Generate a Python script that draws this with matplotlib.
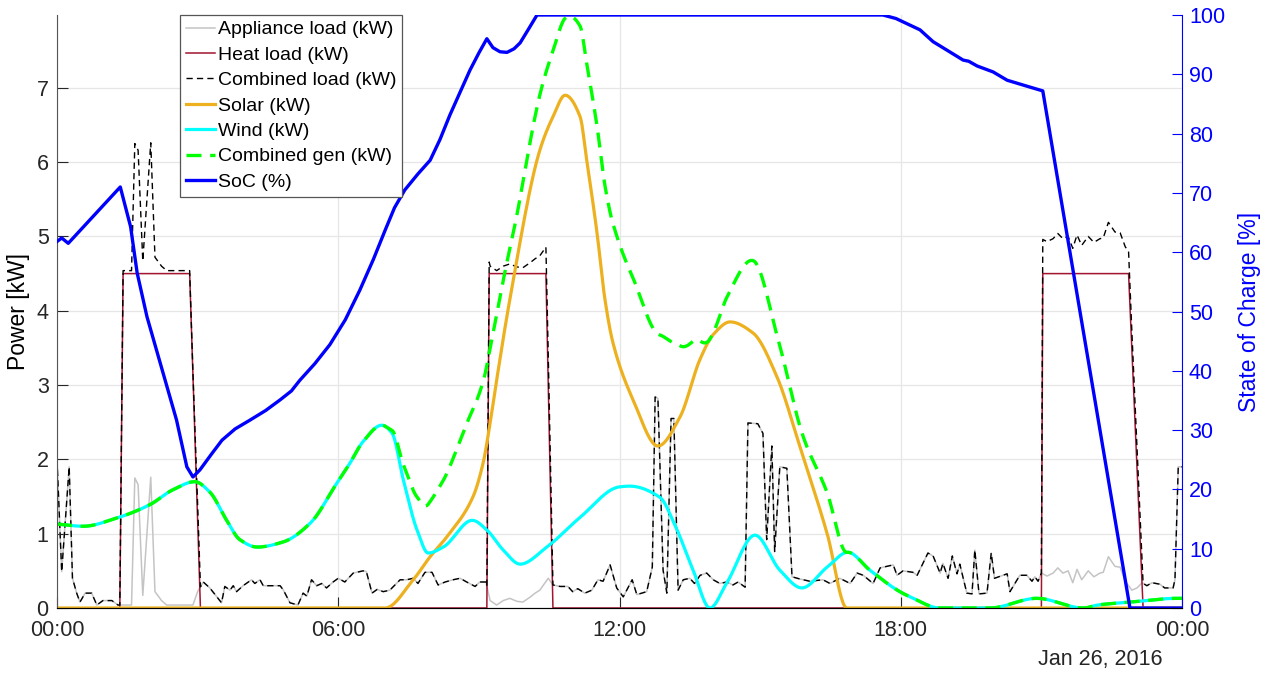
import numpy as np
import pandas as pd
import matplotlib
matplotlib.use("Agg")
import matplotlib.pyplot as plt
import matplotlib.dates as mdates

plt.rcParams['font.family'] = ['Liberation Sans', 'DejaVu Sans']
plt.rcParams['axes.linewidth'] = 0.8

day = pd.Timestamp('2016-01-26')

# Appliance load (kW), irregular samples in hours from midnight
appliance_h = [0.00, 0.10, 0.26, 0.33, 0.42, 0.49, 0.60, 0.74, 0.85, 0.98,
               1.17, 1.30, 1.59, 1.66, 1.73, 1.83, 2.00, 2.09, 2.23, 2.34,
               2.90, 3.00, 3.12, 3.26, 3.51, 3.58, 3.69, 3.76, 3.83, 3.97,
               4.15, 4.22, 4.33, 4.40, 4.54, 4.76, 4.83, 4.97, 5.14, 5.25,
               5.33, 5.43, 5.54, 5.65, 5.75, 5.89, 6.00, 6.14, 6.32, 6.53,
               6.60, 6.72, 6.83, 6.96, 7.10, 7.32, 7.46, 7.60, 7.70, 7.85,
               8.00, 8.13, 8.28, 8.45, 8.60, 8.74, 8.92, 9.02, 9.15, 9.24,
               9.38, 9.52, 9.66, 9.81, 9.94, 10.10, 10.20, 10.30, 10.48, 10.58,
               10.73, 10.90, 11.00, 11.11, 11.26, 11.41, 11.54, 11.65, 11.80, 11.94,
               12.08, 12.27, 12.37, 12.58, 12.70, 12.76, 12.82, 12.93, 13.01, 13.10,
               13.16, 13.25, 13.36, 13.50, 13.60, 13.72, 13.86, 14.00, 14.14, 14.29,
               14.42, 14.53, 14.68, 14.74, 14.95, 15.06, 15.14, 15.25, 15.31, 15.42,
               15.57, 15.68, 15.85, 16.06, 16.34, 16.49, 16.70, 16.92, 17.07, 17.20,
               17.41, 17.56, 17.84, 17.92, 18.05, 18.26, 18.35, 18.58, 18.69, 18.84,
               18.90, 19.01, 19.10, 19.20, 19.26, 19.41, 19.52, 19.58, 19.67, 19.84,
               19.93, 20.00, 20.27, 20.33, 20.54, 20.69, 20.80, 20.86, 20.93, 21.00,
               21.12, 21.25, 21.35, 21.46, 21.57, 21.67, 21.76, 21.86, 22.00, 22.12,
               22.25, 22.32, 22.43, 22.57, 22.68, 22.79, 22.93, 23.04, 23.15, 23.25,
               23.36, 23.53, 23.63, 23.81, 23.85, 23.92, 24.00]
appliance_kw = [2.00, 0.49, 1.90, 0.40, 0.20, 0.08, 0.20, 0.20, 0.04, 0.10,
                0.10, 0.04, 0.04, 1.75, 1.66, 0.17, 1.76, 0.22, 0.10, 0.04,
                0.04, 0.22, 0.35, 0.27, 0.07, 0.29, 0.24, 0.30, 0.22, 0.30,
                0.38, 0.33, 0.38, 0.30, 0.30, 0.30, 0.24, 0.07, 0.04, 0.20,
                0.16, 0.38, 0.30, 0.33, 0.27, 0.35, 0.40, 0.35, 0.47, 0.50,
                0.49, 0.20, 0.25, 0.22, 0.24, 0.38, 0.38, 0.40, 0.33, 0.48,
                0.48, 0.31, 0.35, 0.38, 0.40, 0.35, 0.29, 0.35, 0.35, 0.10,
                0.04, 0.10, 0.13, 0.09, 0.08, 0.15, 0.20, 0.24, 0.40, 0.31,
                0.29, 0.29, 0.22, 0.26, 0.20, 0.24, 0.38, 0.36, 0.58, 0.27,
                0.15, 0.38, 0.18, 0.22, 0.55, 2.84, 2.82, 0.51, 0.20, 2.55,
                2.55, 0.24, 0.38, 0.40, 0.33, 0.44, 0.47, 0.38, 0.33, 0.35,
                0.31, 0.35, 0.28, 2.49, 2.48, 2.35, 0.92, 2.18, 0.76, 1.90,
                1.88, 0.42, 0.39, 0.36, 0.38, 0.33, 0.40, 0.33, 0.47, 0.44,
                0.33, 0.54, 0.58, 0.44, 0.50, 0.48, 0.44, 0.74, 0.70, 0.47,
                0.60, 0.40, 0.70, 0.46, 0.59, 0.20, 0.19, 0.78, 0.19, 0.20,
                0.74, 0.40, 0.46, 0.22, 0.44, 0.44, 0.36, 0.42, 0.36, 0.47,
                0.43, 0.47, 0.54, 0.47, 0.50, 0.34, 0.52, 0.38, 0.50, 0.42,
                0.47, 0.48, 0.69, 0.56, 0.55, 0.36, 0.24, 0.27, 0.34, 0.30,
                0.34, 0.32, 0.27, 0.27, 0.38, 1.90, 1.90]

# Heater on/off profile (kW)
heat_h = [0, 1.34, 1.41, 2.83, 3.06, 9.17, 9.22, 10.43, 10.58, 21.00, 21.03, 22.86, 23.17, 24]
heat_kw = [0, 0, 4.5, 4.5, 0, 0, 4.5, 4.5, 0, 0, 4.5, 4.5, 0, 0]

# Generation (kW)
solar_h = [0, 7.0, 7.6, 7.96, 8.32, 8.87, 9.09, 9.24, 9.38, 9.66, 10.3, 10.58, 10.84,
           11.16, 11.3, 11.52, 11.69, 11.86, 12.29, 12.82, 13.29, 13.72, 14.0, 14.36,
           14.85, 15.36, 15.85, 16.43, 16.85, 24]
solar_kw = [0, 0, 0.38, 0.69, 0.96, 1.49, 1.95, 2.49, 3.07, 4.15, 6.16, 6.61, 6.9,
            6.61, 6.03, 5.05, 4.15, 3.57, 2.8, 2.18, 2.57, 3.35, 3.68, 3.85,
            3.7, 3.11, 2.17, 1.0, 0, 0]

wind_h = [0, 0.56, 1.27, 1.98, 2.47, 2.94, 3.26, 3.62, 3.9, 4.27, 4.83, 5.4, 5.97,
          6.25, 6.53, 6.93, 7.15, 7.39, 7.68, 7.92, 8.24, 8.86, 9.17, 9.52, 9.88,
          10.45, 11.16, 12.0, 12.22, 12.86, 13.2, 13.57, 13.93, 14.29, 14.89, 15.42,
          15.89, 16.43, 16.87, 17.34, 17.98, 18.2, 18.84, 19.9, 20.9, 21.9, 22.2,
          22.9, 23.9, 24]
wind_kw = [1.13, 1.10, 1.21, 1.39, 1.59, 1.70, 1.56, 1.18, 0.92, 0.82, 0.89, 1.14, 1.68,
           1.95, 2.24, 2.46, 2.35, 1.72, 1.05, 0.74, 0.82, 1.18, 1.05, 0.78, 0.59,
           0.82, 1.22, 1.63, 1.64, 1.49, 1.09, 0.51, 0.0, 0.34, 0.98, 0.51,
           0.27, 0.55, 0.75, 0.51, 0.22, 0.15, 0.0, 0.0, 0.13, 0.0, 0.04,
           0.08, 0.13, 0.13]

# Battery state of charge (%)
soc_h = [0, 0.1, 0.24, 1.35, 1.57, 1.71, 1.92, 2.55, 2.77, 2.9, 3.05, 3.3, 3.52,
         3.8, 4.12, 4.45, 4.76, 5.0, 5.18, 5.5, 5.82, 6.15, 6.46, 6.75, 7.0, 7.2,
         7.42, 7.7, 7.96, 8.17, 8.38, 8.6, 8.81, 9.0, 9.17, 9.3, 9.45, 9.6, 9.75,
         9.88, 10.05, 10.24, 17.62, 17.9, 18.41, 18.69, 19.0, 19.33, 19.45, 19.63,
         19.97, 20.27, 20.69, 21.03, 22.89, 24]
soc_pct = [61.8, 62.4, 61.5, 71.0, 64.3, 56.5, 49.1, 31.7, 23.8, 22.1, 23.3, 26.0, 28.3,
           30.2, 31.7, 33.3, 35.1, 36.6, 38.4, 41.2, 44.4, 48.6, 53.6, 58.8, 63.7, 67.5,
           70.5, 73.2, 75.5, 79.0, 83.1, 87.0, 90.7, 93.6, 96.0, 94.5, 93.8, 93.7, 94.3,
           95.3, 97.5, 100, 100, 99.4, 97.5, 95.5, 94.0, 92.4, 92.2, 91.4,
           90.4, 89.0, 88.0, 87.2, 0, 0]


def pchip(x, y, xn):
    # shape-preserving cubic through the samples (Fritsch-Carlson)
    x = np.asarray(x, float)
    y = np.asarray(y, float)
    h = np.diff(x)
    d = np.diff(y) / h
    m = np.zeros_like(y)
    for k in range(1, len(x) - 1):
        if d[k - 1] * d[k] > 0:
            w1 = 2 * h[k] + h[k - 1]
            w2 = h[k] + 2 * h[k - 1]
            m[k] = (w1 + w2) / (w1 / d[k - 1] + w2 / d[k])
    m[0], m[-1] = d[0], d[-1]
    i = np.clip(np.searchsorted(x, xn) - 1, 0, len(h) - 1)
    t = (xn - x[i]) / h[i]
    return ((2 * t**3 - 3 * t**2 + 1) * y[i] + (t**3 - 2 * t**2 + t) * h[i] * m[i]
            + (-2 * t**3 + 3 * t**2) * y[i + 1] + (t**3 - t**2) * h[i] * m[i + 1])


def to_time(hours):
    return day + pd.to_timedelta(np.asarray(hours, float), unit='h')


# loads on a shared time base
load_h = np.union1d(appliance_h, heat_h)
combined_load = np.interp(load_h, appliance_h, appliance_kw) + np.interp(load_h, heat_h, heat_kw)

# smooth generation curves
gen_h = np.linspace(0, 24, 1441)
solar = pchip(solar_h, solar_kw, gen_h)
wind = pchip(wind_h, wind_kw, gen_h)
combined_gen = solar + wind

fig = plt.figure(figsize=(12.74, 6.75), dpi=100)
ax = fig.add_axes([57 / 1274, 1 - 608 / 675, 1125 / 1274, 593 / 675])
ax2 = ax.twinx()

tick_grey = '#262626'
l1, = ax.plot(to_time(appliance_h), appliance_kw, color='#c4c4c4', lw=1.1,
              label='Appliance load (kW)')
l2, = ax.plot(to_time(heat_h), heat_kw, color='#a2142f', lw=1.1, label='Heat load (kW)')
l3, = ax.plot(to_time(load_h), combined_load, color='black', lw=1.0,
              linestyle=(0, (4.5, 3.0)), label='Combined load (kW)')
l4, = ax.plot(to_time(gen_h), solar, color='#edb120', lw=2.3, label='Solar (kW)')
l5, = ax.plot(to_time(gen_h), wind, color='#00ffff', lw=2.3, label='Wind (kW)')
l6, = ax.plot(to_time(gen_h), combined_gen, color='#00ff00', lw=2.4,
              linestyle=(0, (4.5, 2.6)), label='Combined gen (kW)')
l7, = ax2.plot(to_time(soc_h), soc_pct, color='#0000ff', lw=2.4, label='SoC (%)')

ax.set_xlim(day, day + pd.Timedelta(days=1))
ax.set_ylim(0, 7.98)
ax.set_yticks(range(8))
ax2.set_ylim(0, 100)
ax2.set_yticks(range(0, 101, 10))

ax.xaxis.set_major_locator(mdates.HourLocator(byhour=[0, 6, 12, 18]))
ax.xaxis.set_major_formatter(mdates.DateFormatter('%H:%M'))

ax.grid(True, color='#e6e6e6', lw=0.9)
ax.set_axisbelow(True)

for a in (ax, ax2):
    a.spines['top'].set_visible(False)
ax.spines['right'].set_visible(False)
ax2.spines['left'].set_visible(False)
ax.spines['left'].set_color('#555555')
ax.spines['bottom'].set_color('#555555')
ax2.spines['right'].set_color('#0000ff')

ax.tick_params(axis='both', direction='in', length=8, width=0.8, labelsize=15.5,
               colors=tick_grey, pad=6)
ax.tick_params(axis='x', pad=9)
ax2.tick_params(axis='y', direction='in', length=7, width=0.8, labelsize=15.5,
                colors='#0000ff', pad=5)

ax.set_ylabel('Power [kW]', fontsize=16.5, color='black', labelpad=5)
ax2.set_ylabel('State of Charge [%]', fontsize=16.5, color='#0000ff', labelpad=9)

fig.text(1163 / 1274, 1 - 660 / 675, 'Jan 26, 2016', ha='right', va='center',
         fontsize=15.5, color=tick_grey)

leg = ax2.legend(handles=[l1, l2, l3, l4, l5, l6, l7], loc='upper left',
                 bbox_to_anchor=((180 - 57) / 1125, 1.0), fontsize=14,
                 frameon=True, fancybox=False, framealpha=1, edgecolor='#555555',
                 borderpad=0.3, labelspacing=0.4, handlelength=1.5,
                 handletextpad=0.15, borderaxespad=0)
leg.get_frame().set_linewidth(0.9)

fig.savefig('out.png', dpi=100)
